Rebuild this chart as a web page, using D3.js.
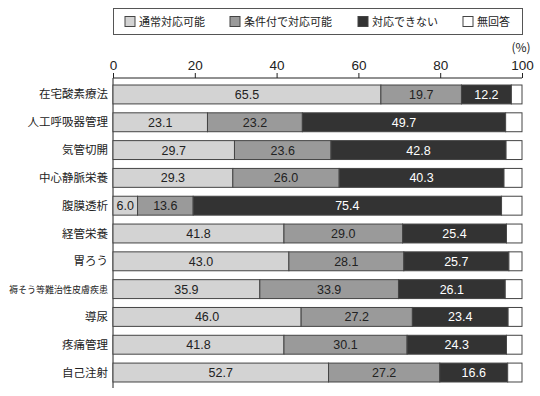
<!DOCTYPE html>
<html>
<head>
<meta charset="utf-8">
<script src="https://cdn.jsdelivr.net/npm/d3@7"></script>
<style>
body { margin: 0; background: #fff; }
text { font-family: "Noto Sans CJK JP", "Noto Sans", sans-serif; }
</style>
</head>
<body>
<div id="chart"></div>
<script>
var w = 540;
var h = 396;

var categories = ["在宅酸素療法", "人工呼吸器管理", "気管切開", "中心静脈栄養", "腹膜透析", "経管栄養", "胃ろう", "褥そう等難治性皮膚疾患", "導尿", "疼痛管理", "自己注射"];
var seriesNames = ["通常対応可能", "条件付で対応可能", "対応できない", "無回答"];
var normal = [65.5, 23.1, 29.7, 29.3, 6.0, 41.8, 43.0, 35.9, 46.0, 41.8, 52.7];
var conditional = [19.7, 23.2, 23.6, 26.0, 13.6, 29.0, 28.1, 33.9, 27.2, 30.1, 27.2];
var unable = [12.2, 49.7, 42.8, 40.3, 75.4, 25.4, 25.7, 26.1, 23.4, 24.3, 16.6];
var noAnswer = [2.6, 4.0, 3.9, 4.4, 5.0, 3.8, 3.2, 4.1, 3.4, 3.8, 3.5];
var ticks = [0, 20, 40, 60, 80, 100];

var colors = ["#d3d3d3", "#9a9a9a", "#333333", "#ffffff"];
var textColors = ["#222", "#222", "#fff", "#222"];

var svg = d3.select("#chart").append("svg").attr("width", w).attr("height", h);

var x = d3.scaleLinear().domain([0, 100]).range([113, 522]);
var y = d3.scaleBand().domain(categories).range([80, 387]).paddingInner(0.32).paddingOuter(0.18);

var rows = categories.map(function(c, i) {
    return { cat: c, vals: [normal[i], conditional[i], unable[i], noAnswer[i]] };
});

// legend
var lg = svg.append("g");
lg.append("rect").attr("x", 113.5).attr("y", 8.5).attr("width", 409).attr("height", 26)
    .style("fill", "#fff").style("stroke", "#555");
var legendX = [125, 230, 358, 463];
seriesNames.forEach(function(s, i) {
    lg.append("rect").attr("x", legendX[i]).attr("y", 16.5).attr("width", 10).attr("height", 10)
        .style("fill", colors[i]).style("stroke", "#444");
    lg.append("text").attr("x", legendX[i] + 14).attr("y", 26).text(s)
        .attr("font-size", "11px").style("fill", "#222");
});

// axis
var axis = d3.axisTop(x).tickValues(ticks).tickSize(5).tickPadding(3);
var ag = svg.append("g").attr("transform", "translate(0,78)").call(axis);
ag.select(".domain").attr("d", "M113,0H522").style("stroke", "#222");
ag.selectAll(".tick line").style("stroke", "#222");
ag.selectAll(".tick text").attr("font-size", "13.5px").style("fill", "#222")
    .style("font-family", "'Liberation Sans', Arial, sans-serif");
svg.append("line").attr("x1", x(0)).attr("x2", x(0)).attr("y1", 78).attr("y2", 388)
    .style("stroke", "#222");
svg.append("text").attr("x", 521).attr("y", 52).attr("text-anchor", "middle")
    .attr("font-size", "12px").style("fill", "#222").text("(%)");

// category labels
svg.selectAll("text.cat").data(rows).enter().append("text")
    .attr("class", "cat")
    .attr("x", 108)
    .attr("y", function(d) { return y(d.cat) + y.bandwidth() / 2 + 4; })
    .attr("text-anchor", "end")
    .attr("font-size", function(d) { return d.cat.length > 8 ? "9px" : "11.5px"; })
    .style("fill", "#222")
    .text(function(d) { return d.cat; });

// bars
var rowG = svg.selectAll("g.row").data(rows).enter().append("g")
    .attr("class", "row")
    .attr("transform", function(d) { return "translate(0," + y(d.cat) + ")"; });

rowG.each(function(d) {
    var g = d3.select(this);
    var start = 0;
    d.vals.forEach(function(v, i) {
        g.append("rect")
            .attr("x", x(start))
            .attr("y", 0)
            .attr("width", x(start + v) - x(start))
            .attr("height", y.bandwidth())
            .style("fill", colors[i])
            .style("stroke", "#444")
            .style("stroke-width", 1);
        if (i < 3) {
            g.append("text")
                .attr("x", (x(start) + x(start + v)) / 2)
                .attr("y", y.bandwidth() / 2 + 4.5)
                .attr("text-anchor", "middle")
                .attr("font-size", "12.5px")
                .style("font-family", "'Liberation Sans', Arial, sans-serif")
                .style("fill", textColors[i])
                .text(v.toFixed(1));
        }
        start += v;
    });
});
</script>
</body>
</html>
